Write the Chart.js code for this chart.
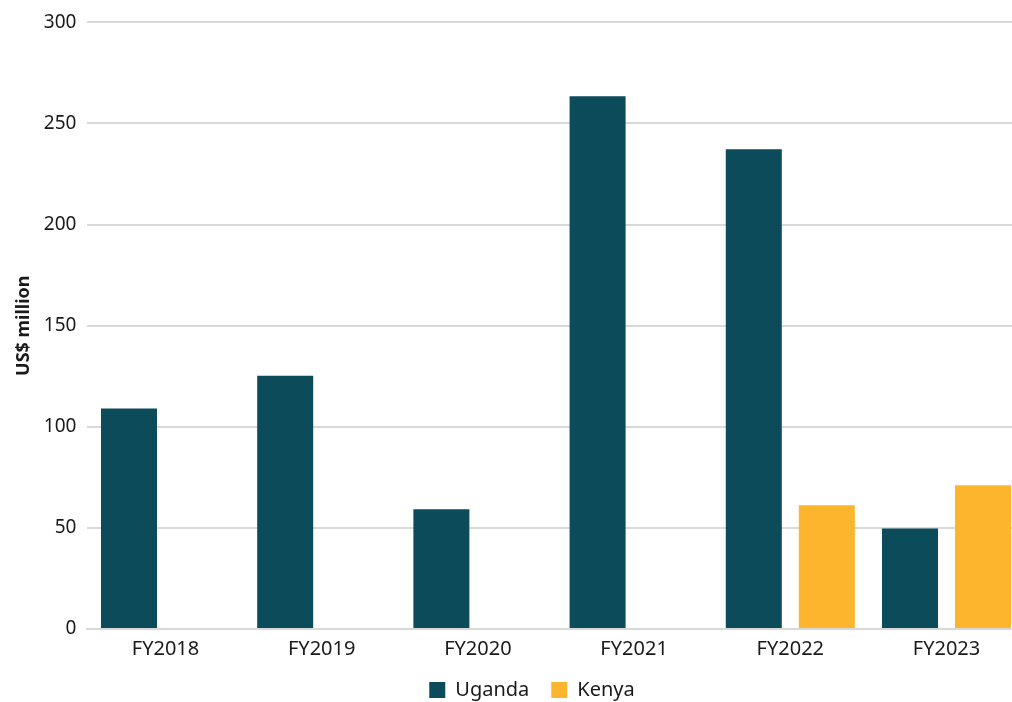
<!DOCTYPE html>
<html>
<head>
<meta charset="utf-8">
<script src="https://cdn.jsdelivr.net/npm/chart.js@4.4.0/dist/chart.umd.min.js"></script>
<style>
  html, body { margin: 0; padding: 0; background: #fff; overflow: hidden; width: 1012px; height: 702px; }
  #wrap { position: relative; width: 1064px; height: 710px; }
</style>
</head>
<body>
<div id="wrap"><canvas id="chart"></canvas></div>
<script>
const years = ['FY2018', 'FY2019', 'FY2020', 'FY2021', 'FY2022', 'FY2023'];
const uganda = [109, 125.3, 59.2, 263.5, 237.3, 49.7];
const kenya = [null, null, null, null, 61.2, 71.1];
const yTicks = [0, 50, 100, 150, 200, 250, 300];

const FONT = "'Noto Sans', sans-serif";
const GRID = '#d9d9d9';

new Chart(document.getElementById('chart'), {
  type: 'bar',
  data: {
    labels: years,
    datasets: [
      { label: 'Uganda', data: uganda, backgroundColor: '#0c4c5a', yAxisID: 'y' },
      { label: 'Kenya', data: kenya, backgroundColor: '#fdb52d', yAxisID: 'y' }
    ]
  },
  options: {
    responsive: true,
    maintainAspectRatio: false,
    animation: false,
    categoryPercentage: 0.935,
    barPercentage: 0.767,
    layout: { padding: { top: 21.5, left: 0, right: 0, bottom: 0 } },
    plugins: {
      tooltip: { enabled: false },
      legend: {
        position: 'bottom',
        labels: {
          boxWidth: 16, boxHeight: 16, padding: 22,
          color: '#1a1a1a', font: { family: FONT, size: 20 }
        }
      }
    },
    scales: {
      x: {
        grid: { display: false, drawTicks: false },
        border: { display: true, color: GRID, width: 2 },
        ticks: { color: '#1a1a1a', padding: 8, font: { family: FONT, size: 20 } },
        afterFit: function(s) { s.height = 29; }
      },
      y: {
        min: 0, max: 300,
        afterBuildTicks: function(s) { s.ticks = yTicks.map(function(v) { return { value: v }; }); },
        grid: { color: GRID, lineWidth: 2, drawTicks: false },
        border: { display: false },
        ticks: { color: '#1a1a1a', padding: 11, font: { family: FONT, size: 19 } },
        title: {
          display: true, text: 'US$ million', color: '#1a1a1a',
          padding: { top: 13, bottom: 4 },
          font: { family: FONT, size: 18, weight: 'bold' }
        },
        afterFit: function(s) { s.width = 87.4; }
      },
      y2: {
        position: 'right',
        min: 0, max: 300,
        grid: { display: false, drawTicks: false },
        border: { display: false },
        ticks: { display: false },
        afterFit: function(s) { s.width = 39.4; }
      }
    }
  }
});
</script>
</body>
</html>
